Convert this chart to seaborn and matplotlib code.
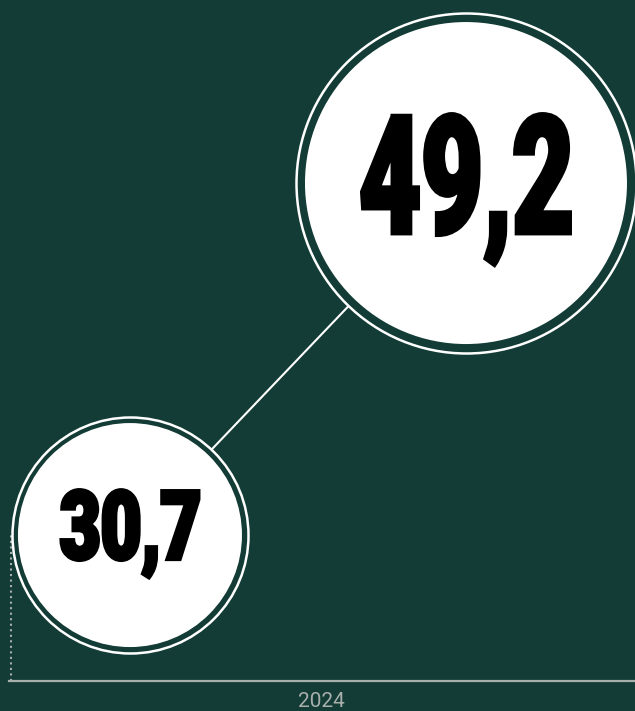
import pandas as pd
import seaborn as sns
import matplotlib.pyplot as plt
from matplotlib.textpath import TextPath
from matplotlib.patches import PathPatch
from matplotlib.font_manager import FontProperties
from matplotlib.transforms import Affine2D, ScaledTranslation

# data
steps = [0, 1]
values = [30.7, 49.2]
value_labels = ["30,7", "49,2"]
tick_pos = [0.571]
tick_labels = ["2024"]

BG = "#123c35"
GREY = "#a9afad"

# look of the bubbles (pixels)
ring_r = [118, 170]
fill_r = [112, 161]
text_w = [141, 212]
cap_h = [74, 125]
base_off = [27, 54]   # baseline below bubble centre

df = pd.DataFrame({"step": steps, "value": values})

sns.set_theme(style="white")
plt.rcParams["font.family"] = ["Roboto", "DejaVu Sans"]

fig = plt.figure(figsize=(6.35, 7.11), dpi=100, facecolor=BG)
ax = fig.add_axes([9 / 635, 30 / 711, 626 / 635, 681 / 711])
ax.set_facecolor(BG)

sns.lineplot(data=df, x="step", y="value", color="white", linewidth=1.5,
             ax=ax, zorder=2)

px2pt = 72 / 100
for i, row in df.iterrows():
    d_ring = 2 * ring_r[i] * px2pt
    d_fill = 2 * fill_r[i] * px2pt
    ax.scatter([row["step"]], [row["value"]], s=d_ring ** 2, facecolor=BG,
               edgecolor="white", linewidth=1.8, zorder=3, clip_on=False)
    ax.scatter([row["step"]], [row["value"]], s=d_fill ** 2, facecolor="white",
               edgecolor="none", zorder=4, clip_on=False)

# big condensed numbers, drawn as squeezed text paths
fp = FontProperties(family=["Roboto", "Lato", "DejaVu Sans"], weight="black")
stroke = 3.0
st_px = stroke * 100 / 72
for i, row in df.iterrows():
    lab = value_labels[i]
    tp = TextPath((0, 0), lab, size=1, prop=fp)
    ext = tp.get_extents()
    ext_d = TextPath((0, 0), lab.replace(",", ""), size=1, prop=fp).get_extents()
    sx = (text_w[i] - st_px) / ext.width
    sy = (cap_h[i] - st_px) / (ext_d.y1 - ext_d.y0)
    tr = (Affine2D()
          .translate(-(ext.x0 + ext.x1) / 2, -ext_d.y0)
          .scale(sx, sy)
          .translate(0, -base_off[i] + st_px / 2)
          + ScaledTranslation(row["step"], row["value"], ax.transData))
    ax.add_patch(PathPatch(tp, transform=tr, facecolor="black",
                           edgecolor="black", linewidth=stroke, zorder=5,
                           joinstyle="miter", clip_on=False))

ax.set_xlim(-0.360, 1.503)
ax.set_ylim(23.03, 58.82)

# dotted guide at the left edge
ax.plot([-0.353, -0.353], [23.03, values[0]], color=GREY, linestyle=":",
        linewidth=1.5, zorder=1)

for s in ["top", "right", "left"]:
    ax.spines[s].set_visible(False)
ax.spines["bottom"].set_color(GREY)
ax.spines["bottom"].set_linewidth(1.6)

ax.set_xticks(tick_pos)
ax.set_xticklabels(tick_labels)
ax.set_yticks([])
ax.tick_params(axis="x", length=0, pad=8, labelsize=15, labelcolor=GREY)
ax.set_xlabel("")
ax.set_ylabel("")
ax.grid(False)

fig.savefig("out.png", dpi=100, facecolor=BG)
